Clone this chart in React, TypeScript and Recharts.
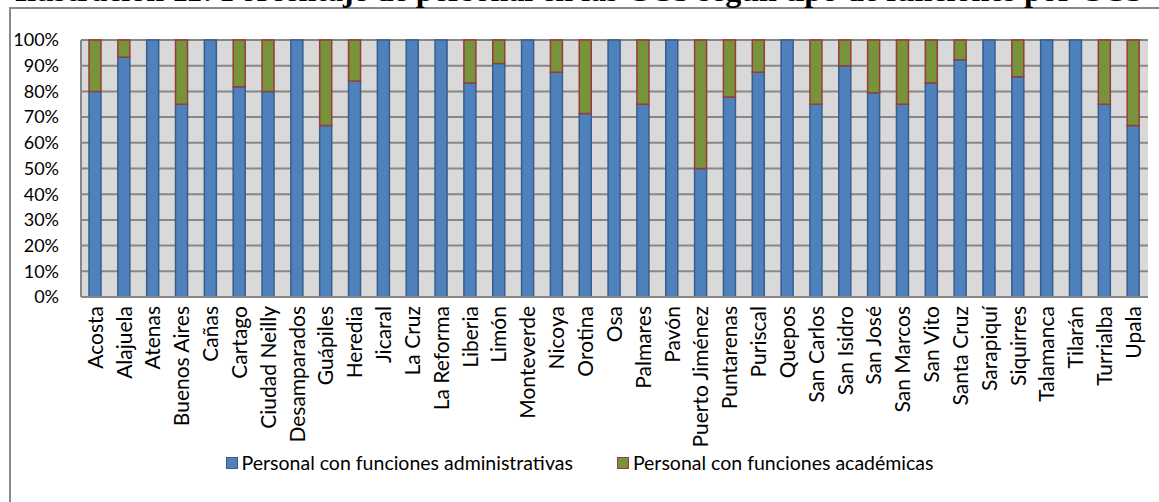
import { BarChart, Bar, XAxis, YAxis, CartesianGrid, Legend } from "recharts";

const centros = [
  "Acosta", "Alajuela", "Atenas", "Buenos Aires", "Cañas", "Cartago", "Ciudad Neilly",
  "Desamparados", "Guápiles", "Heredia", "Jicaral", "La Cruz", "La Reforma", "Liberia",
  "Limón", "Monteverde", "Nicoya", "Orotina", "Osa", "Palmares", "Pavón", "Puerto Jiménez",
  "Puntarenas", "Puriscal", "Quepos", "San Carlos", "San Isidro", "San José", "San Marcos",
  "San Vito", "Santa Cruz", "Sarapiquí", "Siquirres", "Talamanca", "Tilarán", "Turrialba", "Upala",
];

// % personal con funciones administrativas
const administrativas = [
  80, 93.3, 100, 75, 100, 81.8, 80, 100, 66.7, 84, 100, 100, 100, 83.3, 90.9, 100, 87.5,
  71.4, 100, 75, 100, 50, 77.8, 87.5, 100, 75, 90, 79.5, 75, 83.3, 92.3, 100, 85.7, 100,
  100, 75, 66.7,
];

// % personal con funciones académicas
const academicas = [
  20, 6.7, 0, 25, 0, 18.2, 20, 0, 33.3, 16, 0, 0, 0, 16.7, 9.1, 0, 12.5, 28.6, 0, 25, 0,
  50, 22.2, 12.5, 0, 25, 10, 20.5, 25, 16.7, 7.7, 0, 14.3, 0, 0, 25, 33.3,
];

const yTicks = [0, 10, 20, 30, 40, 50, 60, 70, 80, 90, 100];

const titulo =
  "Ilustración 11: Porcentaje de personal en las CCS según tipo de funciones por CCS";

const data = centros.map((name, i) => ({
  name,
  admin: administrativas[i],
  acad: academicas[i],
}));

const FONT = "Lato, 'Open Sans', sans-serif";

const series = [
  { key: "admin", label: "Personal con funciones administrativas", fill: "#4f81bd", stroke: "#385d8a" },
  { key: "acad", label: "Personal con funciones académicas", fill: "#77933c", stroke: "#9b3b38" },
];

function CentroTick({ x, y, payload }: any) {
  return (
    <text
      x={x}
      y={y}
      dy="0.35em"
      transform={`rotate(-90 ${x} ${y})`}
      textAnchor="end"
      fontSize={21}
      fontFamily={FONT}
      fill="#000"
    >
      {payload.value}
    </text>
  );
}

function Leyenda() {
  return (
    <div
      style={{
        display: "flex",
        justifyContent: "center",
        alignItems: "center",
        gap: 44,
        fontFamily: FONT,
        fontSize: 19.5,
        color: "#000",
      }}
    >
      {series.map((s) => (
        <div key={s.key} style={{ display: "flex", alignItems: "center", gap: 4 }}>
          <span
            style={{
              width: 10,
              height: 10,
              background: s.fill,
              border: `1.5px solid ${s.stroke}`,
              display: "inline-block",
            }}
          />
          <span>{s.label}</span>
        </div>
      ))}
    </div>
  );
}

export default function App() {
  return (
    <div
      style={{
        position: "absolute",
        top: 0,
        left: 0,
        width: 1159,
        height: 502,
        overflow: "hidden",
        background: "#fff",
      }}
    >
      <div
        style={{
          position: "absolute",
          left: 9,
          top: 7,
          width: 1300,
          height: 700,
          borderLeft: "2px solid #8a8a8a",
          borderTop: "2px solid #8a8a8a",
        }}
      />
      <svg width={1159} height={20} style={{ position: "absolute", top: 0, left: 0 }}>
        <text
          x={579}
          y={1}
          textAnchor="middle"
          fontFamily="'Liberation Serif', 'Times New Roman', serif"
          fontWeight="bold"
          fontSize={32}
          fill="#000"
        >
          {titulo}
        </text>
      </svg>
      <div style={{ position: "absolute", top: 0, left: 0 }}>
        <BarChart
          width={1159}
          height={502}
          data={data}
          margin={{ top: 40, right: 11, left: 0, bottom: 0 }}
          barSize={12}
        >
          <CartesianGrid
            vertical={false}
            fill="#d9d9d9"
            stroke="#878787"
            strokeWidth={2}
          />
          <XAxis
            dataKey="name"
            interval={0}
            height={205}
            tickLine={false}
            tickSize={9}
            tickMargin={0}
            axisLine={{ stroke: "#878787", strokeWidth: 2 }}
            tick={<CentroTick />}
          />
          <YAxis
            width={81}
            domain={[0, 100]}
            ticks={yTicks}
            interval={0}
            tickFormatter={(v) => `${v}%`}
            tickLine={false}
            tickSize={22}
            tickMargin={0}
            axisLine={{ stroke: "#878787", strokeWidth: 2 }}
            tick={{ fill: "#000", fontSize: 18, fontFamily: FONT }}
          />
          <Legend
            verticalAlign="middle"
            layout="horizontal"
            wrapperStyle={{ top: 451, left: 0, width: 1159, height: 32 }}
            content={() => <Leyenda />}
          />
          {series.map((s) => (
            <Bar
              key={s.key}
              dataKey={s.key}
              name={s.label}
              stackId="ccs"
              fill={s.fill}
              stroke={s.stroke}
              strokeWidth={1.5}
              isAnimationActive={false}
            />
          ))}
        </BarChart>
      </div>
    </div>
  );
}
